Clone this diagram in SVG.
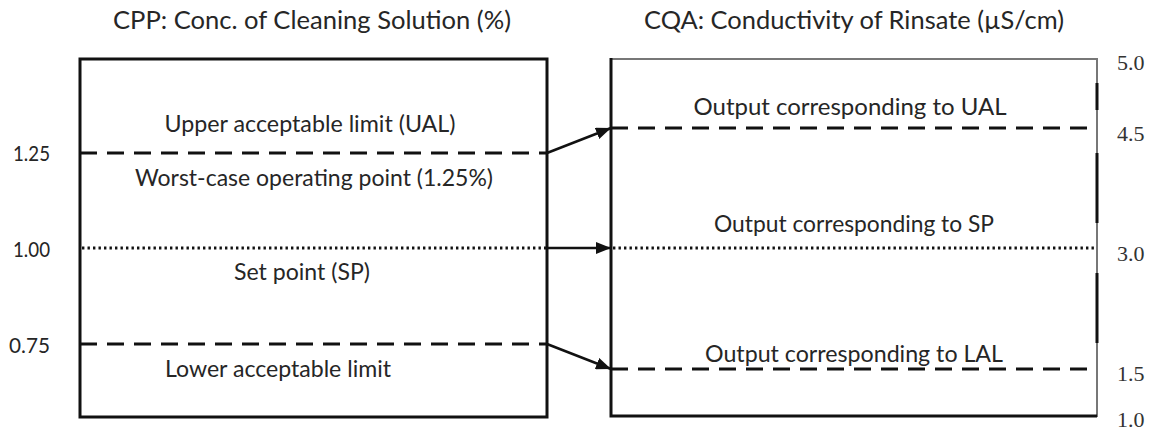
<svg xmlns="http://www.w3.org/2000/svg" width="1154" height="434" viewBox="0 0 1154 434">
<defs>
<style>
.t{font-family:Lato,"Open Sans","Liberation Sans",sans-serif;fill:#262626;}
.title{font-size:25px;text-anchor:middle;}
.lab{font-size:23px;text-anchor:middle;}
.ax{font-size:22px;}
.sr{font-family:"Liberation Serif","DejaVu Serif",serif;font-size:22px;fill:#333;}
.box{fill:none;stroke:#111;stroke-width:3;}
.dash{stroke:#111;stroke-width:3;stroke-dasharray:17 10;fill:none;}
.dot{stroke:#111;stroke-width:2.8;stroke-dasharray:2.4 3.1;fill:none;}
.arr{stroke:#111;stroke-width:2.5;fill:none;marker-end:url(#ah);}
</style>
<marker id="ah" markerUnits="userSpaceOnUse" markerWidth="16" markerHeight="12" refX="15" refY="6" orient="auto">
<path d="M0,0 L15,6 L0,12 z" fill="#111"/>
</marker>
</defs>
<g id="left-node">
<text class="t title" x="312" y="29" textLength="398" lengthAdjust="spacingAndGlyphs">CPP: Conc. of Cleaning Solution (%)</text>
<rect class="box" x="80" y="59" width="467" height="358"/>
<line class="dash" x1="80" y1="153" x2="547" y2="153"/>
<line class="dot" x1="82" y1="248" x2="547" y2="248"/>
<line class="dash" x1="80" y1="344" x2="547" y2="344"/>
<text class="t lab" x="310" y="132" textLength="291" lengthAdjust="spacingAndGlyphs">Upper acceptable limit (UAL)</text>
<text class="t lab" x="314" y="186" textLength="358" lengthAdjust="spacingAndGlyphs">Worst-case operating point (1.25%)</text>
<text class="t lab" x="302" y="280" textLength="136" lengthAdjust="spacingAndGlyphs">Set point (SP)</text>
<text class="t lab" x="278" y="377" textLength="226" lengthAdjust="spacingAndGlyphs">Lower acceptable limit</text>
<text class="t ax" x="13" y="161" textLength="37" lengthAdjust="spacingAndGlyphs">1.25</text>
<text class="t ax" x="13" y="257" textLength="37" lengthAdjust="spacingAndGlyphs">1.00</text>
<text class="t ax" x="9" y="353" textLength="41" lengthAdjust="spacingAndGlyphs">0.75</text>
</g>
<g id="right-node">
<text class="t title" x="854" y="29" textLength="420" lengthAdjust="spacingAndGlyphs">CQA: Conductivity of Rinsate (µS/cm)</text>
<line x1="611" y1="59" x2="1097" y2="59" stroke="#777" stroke-width="2"/>
<line x1="1097" y1="58" x2="1097" y2="417" stroke="#777" stroke-width="2"/>
<path d="M1097,83 V110 M1097,153 V223 M1097,273 V343" stroke="#111" stroke-width="3" fill="none"/>
<path d="M611,58 V416 H1097" class="box"/>
<line class="dash" x1="611" y1="128" x2="1096" y2="128"/>
<line class="dot" x1="613" y1="248" x2="1096" y2="248"/>
<line class="dash" x1="611" y1="369" x2="1096" y2="369"/>
<text class="t lab" x="850" y="115" textLength="313" lengthAdjust="spacingAndGlyphs">Output corresponding to UAL</text>
<text class="t lab" x="854" y="232" textLength="280" lengthAdjust="spacingAndGlyphs">Output corresponding to SP</text>
<text class="t lab" x="854" y="362" textLength="298" lengthAdjust="spacingAndGlyphs">Output corresponding to LAL</text>
<text class="sr" x="1117" y="70">5.0</text>
<text class="sr" x="1117" y="141">4.5</text>
<text class="sr" x="1117" y="261">3.0</text>
<text class="sr" x="1117" y="381">1.5</text>
<text class="sr" x="1117" y="427">1.0</text>
</g>
<g id="connectors">
<line class="arr" x1="547" y1="153" x2="611" y2="128"/>
<line class="arr" x1="547" y1="248" x2="611" y2="248"/>
<line class="arr" x1="547" y1="344" x2="611" y2="369"/>
</g>
</svg>
